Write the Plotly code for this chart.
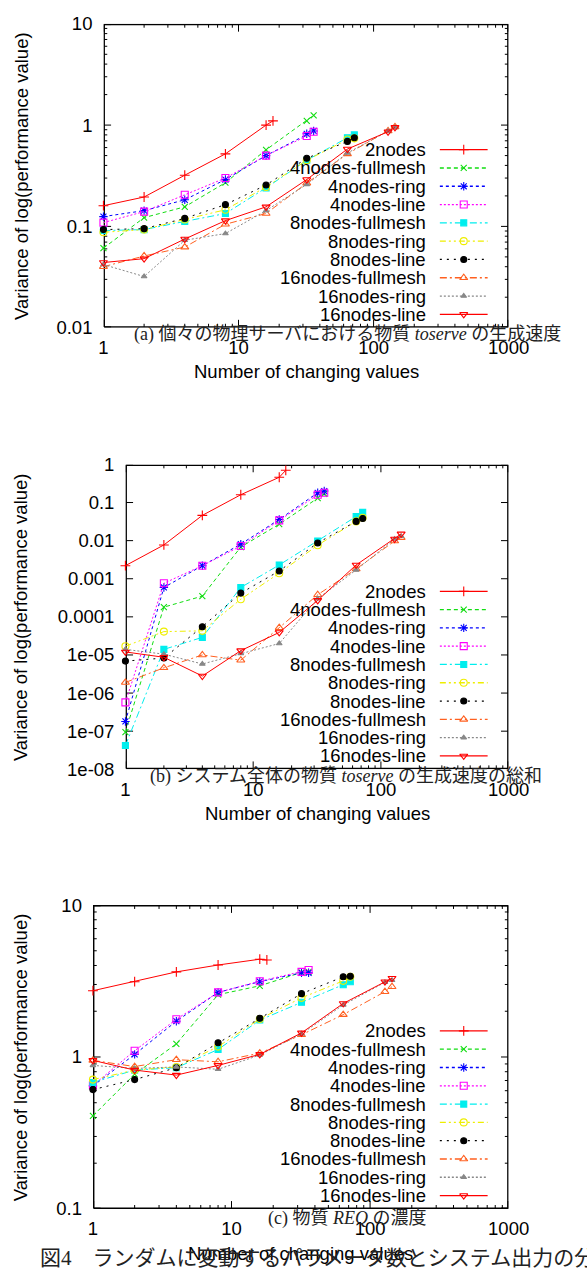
import math
import plotly.graph_objects as go

W, H = 587, 1275

series_names = ["2nodes", "4nodes-fullmesh", "4nodes-ring", "4nodes-line",
                "8nodes-fullmesh", "8nodes-ring", "8nodes-line",
                "16nodes-fullmesh", "16nodes-ring", "16nodes-line"]

x_2nodes = [1, 2, 4, 8, 16, 18]
x_4nodes = [1, 2, 4, 8, 16, 32, 36]
x_8nodes = [1, 2, 4, 8, 16, 32, 64, 72]
x_16nodes = [1, 2, 4, 8, 16, 32, 64, 128, 144]
series_x = [x_2nodes, x_4nodes, x_4nodes, x_4nodes,
            x_8nodes, x_8nodes, x_8nodes,
            x_16nodes, x_16nodes, x_16nodes]

# (a) per-server production rate of toserve
a_2nodes = [0.16, 0.195, 0.32, 0.52, 1.0, 1.1]
a_4full = [0.061, 0.122, 0.156, 0.27, 0.57, 1.1, 1.25]
a_4ring = [0.125, 0.143, 0.183, 0.29, 0.50, 0.82, 0.875]
a_4line = [0.109, 0.14, 0.205, 0.30, 0.50, 0.78, 0.86]
a_8full = [0.091, 0.093, 0.112, 0.134, 0.24, 0.45, 0.75, 0.80]
a_8ring = [0.0875, 0.093, 0.117, 0.146, 0.245, 0.45, 0.72, 0.74]
a_8line = [0.093, 0.095, 0.12, 0.164, 0.256, 0.47, 0.69, 0.75]
a_16full = [0.040, 0.051, 0.0625, 0.105, 0.134, 0.267, 0.52, 0.875, 0.96]
a_16ring = [0.042, 0.032, 0.073, 0.085, 0.143, 0.26, 0.53, 0.87, 0.95]
a_16line = [0.044, 0.048, 0.075, 0.114, 0.156, 0.29, 0.58, 0.86, 0.95]

# (b) total production rate of toserve
b_2nodes = [0.0022, 0.0077, 0.046, 0.16, 0.46, 0.7]
b_4full = [9.5e-8, 1.8e-4, 3.5e-4, 0.0068, 0.027, 0.13, 0.17]
b_4ring = [1.8e-7, 5.9e-4, 0.0022, 0.0081, 0.036, 0.18, 0.2]
b_4line = [5.7e-7, 7.6e-4, 0.0022, 0.0072, 0.034, 0.16, 0.18]
b_8full = [4.2e-8, 1.4e-5, 2.9e-5, 5.9e-4, 0.0023, 0.0098, 0.043, 0.055]
b_8ring = [1.7e-5, 4.1e-5, 4.3e-5, 2.9e-4, 0.0014, 0.0076, 0.032, 0.04]
b_8line = [6.9e-6, 8.3e-6, 5.5e-5, 4.2e-4, 0.0016, 0.0087, 0.032, 0.038]
b_16full = [1.9e-6, 4.6e-6, 1.0e-5, 7.3e-6, 5.2e-5, 3.8e-4, 0.0018, 0.0098, 0.012]
b_16ring = [1.4e-5, 1.05e-5, 5.8e-6, 1.1e-5, 2.0e-5, 3.0e-4, 0.0017, 0.011, 0.013]
b_16line = [1.2e-5, 8.7e-6, 2.8e-6, 1.3e-5, 3.9e-5, 2.7e-4, 0.0023, 0.011, 0.015]

# (c) concentration of REQ
c_2nodes = [2.73, 3.13, 3.63, 4.03, 4.4, 4.35]
c_4full = [0.41, 0.77, 1.22, 2.57, 2.94, 3.6, 3.63]
c_4ring = [0.645, 1.04, 1.72, 2.66, 3.13, 3.58, 3.58]
c_4line = [0.65, 1.1, 1.77, 2.66, 3.15, 3.63, 3.74]
c_8full = [0.68, 0.82, 0.85, 1.12, 1.75, 2.29, 2.99, 3.13]
c_8ring = [0.71, 0.82, 0.86, 1.17, 1.78, 2.45, 3.17, 3.37]
c_8line = [0.61, 0.71, 0.85, 1.24, 1.8, 2.61, 3.37, 3.4]
c_16full = [0.95, 0.865, 0.96, 0.93, 1.06, 1.4, 1.9, 2.69, 2.9]
c_16ring = [0.88, 0.84, 0.86, 0.83, 1.03, 1.42, 2.2, 3.1, 3.2]
c_16line = [0.95, 0.82, 0.76, 0.88, 1.04, 1.44, 2.25, 3.13, 3.3]

panel_a = [a_2nodes, a_4full, a_4ring, a_4line, a_8full, a_8ring, a_8line, a_16full, a_16ring, a_16line]
panel_b = [b_2nodes, b_4full, b_4ring, b_4line, b_8full, b_8ring, b_8line, b_16full, b_16ring, b_16line]
panel_c = [c_2nodes, c_4full, c_4ring, c_4line, c_8full, c_8ring, c_8line, c_16full, c_16ring, c_16line]

x_tick_vals = [1, 10, 100, 1000]
x_tick_text = ["1", "10", "100", "1000"]
a_tick_vals = [0.01, 0.1, 1, 10]
a_tick_text = ["0.01", "0.1", "1", "10"]
b_tick_vals = [1e-8, 1e-7, 1e-6, 1e-5, 1e-4, 1e-3, 1e-2, 1e-1, 1]
b_tick_text = ["1e-08", "1e-07", "1e-06", "1e-05", "0.0001", "0.001", "0.01", "0.1", "1"]
c_tick_vals = [0.1, 1, 10]
c_tick_text = ["0.1", "1", "10"]

caption_a = "(a) 個々の物理サーバにおける物質 <i>toserve</i> の生成速度"
caption_b = "(b) システム全体の物質 <i>toserve</i> の生成速度の総和"
caption_c = "(c) 物質 <i>REQ</i> の濃度"
figure_caption = "図4　ランダムに変動するパラメータ数とシステム出力の分散"
x_title = "Number of changing values"
y_title = "Variance of log(performance value)"

styles = [
    dict(color="#ff0000", dash="solid", symbol="cross-thin-open", size=7),
    dict(color="#11dd11", dash="4px,3px", symbol="x-thin-open", size=6),
    dict(color="#0000ff", dash="3px,3px", symbol="asterisk-open", size=7),
    dict(color="#ff00ff", dash="2px,2px", symbol="square-open", size=7),
    dict(color="#00eeee", dash="7px,3px,2px,3px", symbol="square", size=6),
    dict(color="#eeee00", dash="6px,3px,2px,3px,2px,3px", symbol="circle-open", size=7),
    dict(color="#000000", dash="2px,5px", symbol="circle", size=6),
    dict(color="#ff6020", dash="7px,3px,2px,3px", symbol="triangle-up-open", size=7),
    dict(color="#888888", dash="2px,2px", symbol="triangle-up", size=5),
    dict(color="#ff0000", dash="solid", symbol="triangle-down-open", size=7),
]

SANS = "Liberation Sans, Arial, sans-serif"
SERIF = "Liberation Serif, Noto Sans CJK JP, serif"
FS = 18.5
MAJOR_LEN, MINOR_LEN = 8, 4
INSET = 0.8  # px, keeps frame strokes inside the plot clip region

# panel geometry in pixels: left, right, top, bottom
panels = [
    dict(data=panel_a, left=103, right=527, top=13, bottom=322,
         yr=[-2, 1], yt=(a_tick_vals, a_tick_text), yminor=True,
         legend_top=141, caption=caption_a, cap_x=133, cap_y=329),
    dict(data=panel_b, left=126, right=527, top=461, bottom=771,
         yr=[-8, 0], yt=(b_tick_vals, b_tick_text), yminor=False,
         legend_top=590, caption=caption_b, cap_x=150, cap_y=778),
    dict(data=panel_c, left=92, right=527, top=909, bottom=1218,
         yr=[-1, 1], yt=(c_tick_vals, c_tick_text), yminor=True,
         legend_top=1037, caption=caption_c, cap_x=273, cap_y=1228),
]


def minor_vals(lo, hi):
    vals = []
    for e in range(lo, hi):
        for m in range(2, 10):
            vals.append(m * 10 ** e)
    return vals


fig = go.Figure()
layout = dict(width=W, height=H, margin=dict(l=0, r=0, t=0, b=0),
              paper_bgcolor="white", plot_bgcolor="white", showlegend=False)
annotations = []

ax_common = dict(showline=False, ticks="", showgrid=False, zeroline=False, type="log",
                 tickfont=dict(family=SANS, size=FS, color="black"))

for i, p in enumerate(panels):
    n = i + 1
    xa = "xaxis" if n == 1 else f"xaxis{n}"
    ya = "yaxis" if n == 1 else f"yaxis{n}"
    xr = "x" if n == 1 else f"x{n}"
    yr = "y" if n == 1 else f"y{n}"
    pw = p["right"] - p["left"]
    ph = p["bottom"] - p["top"]
    lo, hi = p["yr"]
    layout[xa] = dict(ax_common, domain=[p["left"] / W, p["right"] / W], anchor=yr,
                      range=[0, 3], tickmode="array", tickvals=x_tick_vals,
                      ticktext=x_tick_text, ticklabelstandoff=7)
    layout[ya] = dict(ax_common, domain=[1 - p["bottom"] / H, 1 - p["top"] / H], anchor=xr,
                      range=p["yr"], tickmode="array", tickvals=p["yt"][0],
                      ticktext=p["yt"][1], ticklabelstandoff=10)

    # gnuplot-style frame and inside ticks, drawn as line traces slightly inset
    ex = 3 * INSET / pw
    ey = (hi - lo) * INSET / ph
    xl, xh = 10 ** ex, 10 ** (3 - ex)
    yl, yh = 10 ** (lo + ey), 10 ** (hi - ey)
    fig.add_trace(go.Scatter(x=[xl, xh, xh, xl, xl], y=[yl, yl, yh, yh, yl],
                             mode="lines", xaxis=xr, yaxis=yr, hoverinfo="skip",
                             line=dict(color="black", width=1.5)))
    tx, ty = [], []
    xt = [(v, MAJOR_LEN) for v in x_tick_vals] + [(v, MINOR_LEN) for v in minor_vals(0, 3)]
    for v, L in xt:
        d = L / ph * (hi - lo)
        vv = min(max(v, xl), xh)
        tx += [vv, vv, None, vv, vv, None]
        ty += [yl, 10 ** (lo + d), None, yh, 10 ** (hi - d), None]
    yt = [(v, MAJOR_LEN) for v in p["yt"][0]]
    if p["yminor"]:
        yt += [(v, MINOR_LEN) for v in minor_vals(lo, hi)]
    for v, L in yt:
        d = 3 * L / pw
        vv = min(max(v, yl), yh)
        tx += [xl, 10 ** d, None, xh, 10 ** (3 - d), None]
        ty += [vv, vv, None, vv, vv, None]
    fig.add_trace(go.Scatter(x=tx, y=ty, mode="lines", xaxis=xr, yaxis=yr,
                             hoverinfo="skip", connectgaps=False,
                             line=dict(color="black", width=1)))

    for k, (name, ys) in enumerate(zip(series_names, p["data"])):
        st = styles[k]
        fig.add_trace(go.Scatter(
            x=series_x[k], y=ys, mode="lines+markers", name=name,
            xaxis=xr, yaxis=yr, cliponaxis=False,
            line=dict(color=st["color"], width=1, dash=st["dash"]),
            marker=dict(symbol=st["symbol"], size=st["size"], color=st["color"],
                        line=dict(color=st["color"], width=1.1))))

    # manual gnuplot-style key (pixel layout converted to this panel's log scale)
    def px_to_x(px, p=p):
        return 10 ** (3 * (px - p["left"]) / (p["right"] - p["left"]))

    def py_to_y(py, p=p):
        lo_, hi_ = p["yr"]
        return 10 ** (lo_ + (hi_ - lo_) * (p["bottom"] - py) / (p["bottom"] - p["top"]))

    for k, name in enumerate(series_names):
        st = styles[k]
        yy = p["legend_top"] + k * 18.6
        annotations.append(dict(text=name, xref="paper", yref="paper",
                                x=443 / W, y=1 - yy / H, xanchor="right", yanchor="middle",
                                showarrow=False, font=dict(family=SANS, size=FS, color="black")))
        fig.add_trace(go.Scatter(x=[px_to_x(455), px_to_x(505)], y=[py_to_y(yy)] * 2,
                                 mode="lines", xaxis=xr, yaxis=yr, hoverinfo="skip",
                                 line=dict(color=st["color"], width=1.3, dash=st["dash"])))
        fig.add_trace(go.Scatter(x=[px_to_x(480)], y=[py_to_y(yy)], mode="markers",
                                 xaxis=xr, yaxis=yr, hoverinfo="skip",
                                 marker=dict(symbol=st["symbol"], size=st["size"], color=st["color"],
                                             line=dict(color=st["color"], width=1.1))))

    # axis titles
    annotations.append(dict(text=x_title, xref="paper", yref="paper",
                            x=(p["left"] + p["right"]) / 2 / W, y=1 - (p["bottom"] + 45) / H,
                            xanchor="center", yanchor="middle", showarrow=False,
                            font=dict(family=SANS, size=FS, color="black")))
    annotations.append(dict(text=y_title, xref="paper", yref="paper", textangle=-90,
                            x=17 / W, y=1 - (p["top"] + p["bottom"]) / 2 / H,
                            xanchor="center", yanchor="middle", showarrow=False,
                            font=dict(family=SANS, size=FS, color="black")))
    # sub-caption
    annotations.append(dict(text=p["caption"], xref="paper", yref="paper",
                            x=p["cap_x"] / W, y=1 - p["cap_y"] / H,
                            xanchor="left", yanchor="middle", showarrow=False,
                            font=dict(family=SERIF, size=18, color="#222222")))

annotations.append(dict(text=figure_caption, xref="paper", yref="paper",
                        x=35 / W, y=1 - 1268 / H, xanchor="left", yanchor="middle",
                        showarrow=False, font=dict(family=SERIF, size=21, color="#222222")))

layout["annotations"] = annotations
fig.update_layout(**layout)

fig.write_html("out.html", config={"displayModeBar": False},
               post_script="document.body.style.margin='0px';document.body.style.overflow='hidden';")
